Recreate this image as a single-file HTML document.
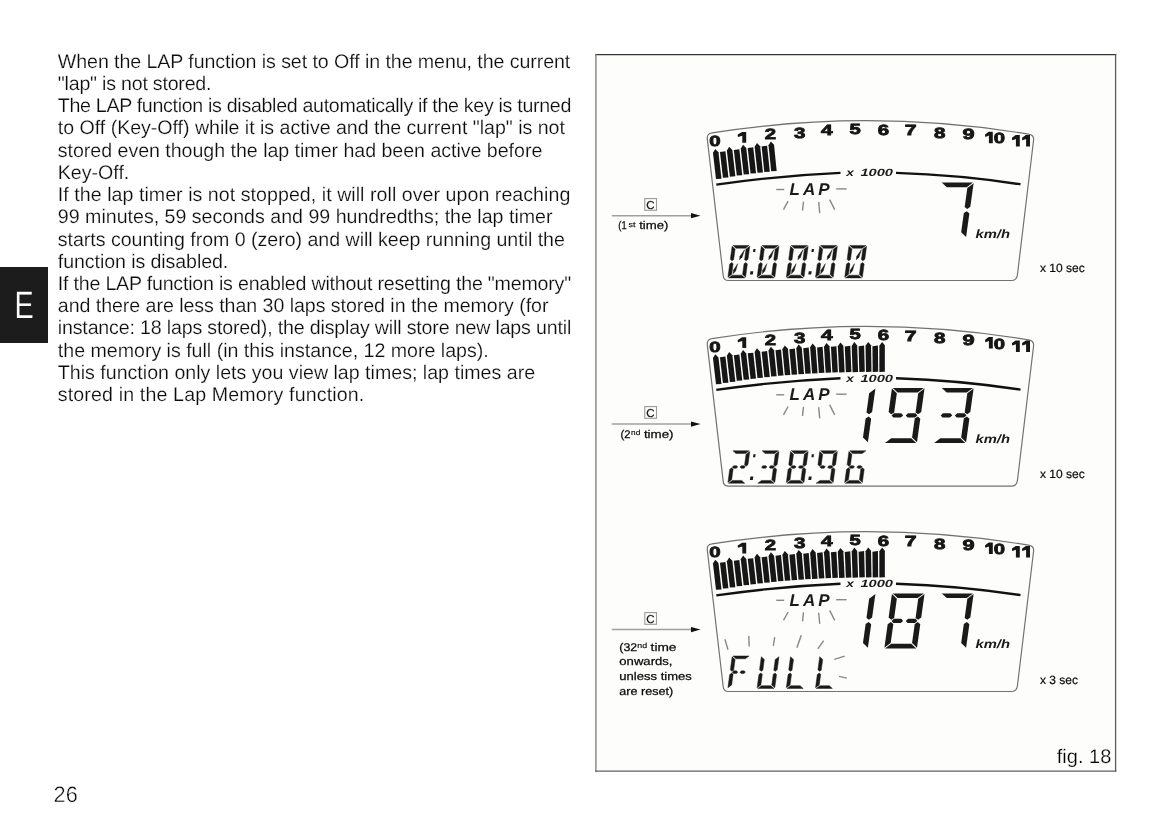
<!DOCTYPE html>
<html><head><meta charset="utf-8"><title>LAP function</title><style>
html,body{margin:0;padding:0;background:#fff;}
svg{display:block;will-change:transform;}
text{text-rendering:geometricPrecision;}
.bt{font-family:"Liberation Sans",sans-serif;font-size:19.6px;fill:#0c0c0c;stroke:#fff;stroke-width:0.2px;}
.pn{font-family:"Liberation Sans",sans-serif;font-size:22.5px;fill:#000;stroke:#fff;stroke-width:0.45px;}
.et{font-family:"Liberation Sans",sans-serif;font-size:38px;fill:#fff;stroke:#1c1c1c;stroke-width:0.25px;}
.fig{font-family:"Liberation Sans",sans-serif;font-size:19.6px;fill:#000;stroke:#fdfdfb;stroke-width:0.25px;}
.sn{font-family:"Liberation Sans",sans-serif;font-weight:bold;font-size:14.8px;fill:#161616;stroke:#161616;stroke-width:0.8px;}
.x1k{font-family:"Liberation Sans",sans-serif;font-weight:bold;font-style:italic;font-size:10.5px;fill:#1a1a1a;}
.lap{font-family:"Liberation Sans",sans-serif;font-weight:bold;font-style:italic;font-size:17px;fill:#1a1a1a;}
.kmh{font-family:"Liberation Sans",sans-serif;font-weight:bold;font-style:italic;font-size:12px;fill:#1a1a1a;}
.ray{stroke:#888;stroke-width:1.4;}
.ck{font-family:"Liberation Sans",sans-serif;font-size:11.5px;fill:#111;stroke:#111;stroke-width:0.2px;}
.an{font-family:"Liberation Sans",sans-serif;font-size:11.2px;fill:#0a0a0a;stroke:#0a0a0a;stroke-width:0.25px;}
.sup{font-family:"Liberation Sans",sans-serif;font-size:7.4px;fill:#0a0a0a;stroke:#0a0a0a;stroke-width:0.15px;}
.sec{font-family:"Liberation Sans",sans-serif;font-size:12px;fill:#0a0a0a;stroke:#0a0a0a;stroke-width:0.2px;}
</style></head>
<body><svg width="1169" height="825" viewBox="0 0 1169 825">
<rect width="1169" height="825" fill="#fff"/>
<text x="57.80" y="67.80" class="bt" textLength="512.50" lengthAdjust="spacing">When the LAP function is set to Off in the menu, the current</text><text x="57.80" y="90.02" class="bt" textLength="153.70" lengthAdjust="spacing">&quot;lap&quot; is not stored.</text><text x="57.80" y="112.24" class="bt" textLength="513.50" lengthAdjust="spacing">The LAP function is disabled automatically if the key is turned</text><text x="57.80" y="134.46" class="bt" textLength="507.10" lengthAdjust="spacing">to Off (Key-Off) while it is active and the current &quot;lap&quot; is not</text><text x="57.80" y="156.68" class="bt" textLength="484.50" lengthAdjust="spacing">stored even though the lap timer had been active before</text><text x="57.80" y="178.90" class="bt" textLength="71.50" lengthAdjust="spacing">Key-Off.</text><text x="57.80" y="201.12" class="bt" textLength="512.50" lengthAdjust="spacing">If the lap timer is not stopped, it will roll over upon reaching</text><text x="57.80" y="223.34" class="bt" textLength="494.70" lengthAdjust="spacing">99 minutes, 59 seconds and 99 hundredths; the lap timer</text><text x="57.80" y="245.56" class="bt" textLength="507.10" lengthAdjust="spacing">starts counting from 0 (zero) and will keep running until the</text><text x="57.80" y="267.78" class="bt" textLength="170.50" lengthAdjust="spacing">function is disabled.</text><text x="57.80" y="290.00" class="bt" textLength="513.30" lengthAdjust="spacing">If the LAP function is enabled without resetting the &quot;memory&quot;</text><text x="57.80" y="312.22" class="bt" textLength="490.70" lengthAdjust="spacing">and there are less than 30 laps stored in the memory (for</text><text x="57.80" y="334.44" class="bt" textLength="513.50" lengthAdjust="spacing">instance: 18 laps stored), the display will store new laps until</text><text x="57.80" y="356.66" class="bt" textLength="430.90" lengthAdjust="spacing">the memory is full (in this instance, 12 more laps).</text><text x="57.80" y="378.88" class="bt" textLength="477.30" lengthAdjust="spacing">This function only lets you view lap times; lap times are</text><text x="57.80" y="401.10" class="bt" textLength="306.50" lengthAdjust="spacing">stored in the Lap Memory function.</text><text x="53.6" y="802.3" class="pn" textLength="24.2" lengthAdjust="spacingAndGlyphs">26</text><rect x="0" y="267" width="48" height="76" fill="#1c1c1c"/><text x="14.6" y="318.3" class="et" textLength="19.2" lengthAdjust="spacingAndGlyphs">E</text><rect x="595.9" y="54.6" width="519.7" height="716.5" fill="#fdfdfb"/><line x1="595.2" y1="54.6" x2="1116.3" y2="54.6" stroke="#353535" stroke-width="1.3"/><line x1="595.9" y1="54" x2="595.9" y2="771.7" stroke="#7a7a7a" stroke-width="1.3"/><line x1="1115.6" y1="54" x2="1115.6" y2="771.7" stroke="#5c5c5c" stroke-width="1.3"/><line x1="595.2" y1="771.1" x2="1116.3" y2="771.1" stroke="#606060" stroke-width="1.3"/><text x="1056.8" y="762.6" class="fig" textLength="54.5" lengthAdjust="spacingAndGlyphs">fig. 18</text><path d="M707.4,140 Q706.4,133.6 712,132.9 Q870,107.9 1028.5,134.2 Q1034,135 1033.6,140 L1017.4,275.0 Q1016.6,280.5 1011.5,280.5 L728.5,280.5 Q723.6,280.5 723.2,275.7 Z" transform="translate(0,0)" fill="none" stroke="#6f7375" stroke-width="1.2"/><text x="709.30" y="146.40" class="sn" textLength="11.40" lengthAdjust="spacingAndGlyphs">0</text><text x="764.80" y="139.40" class="sn" textLength="11.30" lengthAdjust="spacingAndGlyphs">2</text><text x="794.00" y="137.60" class="sn" textLength="11.40" lengthAdjust="spacingAndGlyphs">3</text><text x="821.00" y="134.80" class="sn" textLength="11.60" lengthAdjust="spacingAndGlyphs">4</text><text x="849.50" y="134.00" class="sn" textLength="11.30" lengthAdjust="spacingAndGlyphs">5</text><text x="877.80" y="134.80" class="sn" textLength="11.40" lengthAdjust="spacingAndGlyphs">6</text><text x="904.80" y="135.30" class="sn" textLength="11.80" lengthAdjust="spacingAndGlyphs">7</text><text x="934.00" y="137.90" class="sn" textLength="11.40" lengthAdjust="spacingAndGlyphs">8</text><text x="962.50" y="139.40" class="sn" textLength="12.10" lengthAdjust="spacingAndGlyphs">9</text><polygon points="742.10,131.90 746.20,131.90 746.20,142.70 742.30,142.70 742.30,135.70 738.20,137.00 737.70,136.20 737.70,134.60" fill="#161616"/><polygon points="988.70,131.80 992.80,131.80 992.80,143.30 988.90,143.30 988.90,135.60 985.60,136.90 985.10,136.10 985.10,134.50" fill="#161616"/><polygon points="1015.70,135.10 1019.80,135.10 1019.80,146.60 1015.90,146.60 1015.90,138.90 1012.50,140.20 1012.00,139.40 1012.00,137.80" fill="#161616"/><polygon points="1025.90,135.10 1030.00,135.10 1030.00,146.60 1026.10,146.60 1026.10,138.90 1022.60,140.20 1022.10,139.40 1022.10,137.80" fill="#161616"/><text x="993.7" y="143.30" class="sn" textLength="11.3" lengthAdjust="spacingAndGlyphs">0</text><g fill="#161616"><polygon points="716.00,179.05 721.50,178.75 718.46,152.30 715.30,148.90 712.96,152.70"/><polygon points="722.93,177.81 728.43,177.51 725.45,151.30 719.95,152.00"/><polygon points="729.86,176.65 735.36,176.35 732.36,150.07 729.20,146.67 726.86,150.47"/><polygon points="736.77,175.56 742.27,175.26 739.34,149.20 733.84,149.90"/><polygon points="743.67,174.55 749.17,174.25 746.25,148.09 743.10,144.69 740.75,148.49"/><polygon points="750.56,173.61 756.06,173.31 753.23,147.34 747.73,148.04"/><polygon points="757.45,172.74 762.95,172.44 760.14,146.35 757.00,142.95 754.64,146.75"/><polygon points="764.32,171.94 769.82,171.64 767.11,145.71 761.61,146.41"/><polygon points="771.18,171.21 776.68,170.91 774.02,144.84 770.90,141.44 768.52,145.24"/></g><path d="M716.3,184.6 Q780,175.5 840.5,172.9" fill="none" stroke="#111" stroke-width="2.4"/><path d="M896,172.9 Q960,175 1020.5,184.3" fill="none" stroke="#111" stroke-width="2.4"/><text x="846.2" y="176.3" class="x1k" textLength="7.6" lengthAdjust="spacingAndGlyphs">x</text><text x="860.4" y="176.3" class="x1k" textLength="32.6" lengthAdjust="spacingAndGlyphs">1000</text><text x="789.5" y="195" class="lap" textLength="40" lengthAdjust="spacing">LAP</text><line x1="776.2" y1="189.5" x2="784.2" y2="189.5" class="ray"/><line x1="836.2" y1="188.9" x2="846.6" y2="188.9" class="ray"/><line x1="788.1" y1="201.2" x2="783.5" y2="209.6" class="ray"/><line x1="803.5" y1="201.6" x2="802.5" y2="210.6" class="ray"/><line x1="818.7" y1="201.9" x2="819.7" y2="213.1" class="ray"/><line x1="829.7" y1="199.6" x2="834.7" y2="209.6" class="ray"/><g fill="#1a1a1a"><polygon points="941.80,182.60 973.00,182.60 966.74,187.30 946.74,187.30"/><polygon points="973.60,183.30 970.33,206.70 967.22,208.90 964.67,207.10 967.34,188.00"/><polygon points="969.37,213.50 966.10,236.90 961.16,232.20 963.83,213.10 966.88,211.30"/></g><text x="975.5" y="237.6" class="kmh" textLength="34.5" lengthAdjust="spacingAndGlyphs">km/h</text><g fill="#1a1a1a" stroke="#1a1a1a" stroke-width="0.45" stroke-linejoin="round"><polygon points="732.94,245.45 749.14,245.45 745.36,248.25 735.96,248.25"/><polygon points="749.79,246.20 748.02,259.30 746.11,260.85 744.56,259.70 746.01,249.00"/><polygon points="747.37,264.10 745.60,277.20 742.58,274.40 744.02,263.70 745.88,262.55"/><polygon points="732.33,275.15 741.73,275.15 744.75,277.95 728.55,277.95"/><polygon points="729.67,264.10 731.58,262.55 733.12,263.70 731.68,274.40 727.90,277.20"/><polygon points="732.09,246.20 735.11,249.00 733.66,259.70 731.81,260.85 730.32,259.30"/><polygon points="744.62,249.65 739.95,256.33 739.50,259.80 742.13,257.18"/><polygon points="737.67,263.70 733.43,270.16 733.07,273.75 735.65,270.91"/><polygon points="762.14,245.45 778.34,245.45 774.56,248.25 765.16,248.25"/><polygon points="778.99,246.20 777.22,259.30 775.31,260.85 773.76,259.70 775.21,249.00"/><polygon points="776.57,264.10 774.80,277.20 771.78,274.40 773.22,263.70 775.08,262.55"/><polygon points="761.53,275.15 770.93,275.15 773.95,277.95 757.75,277.95"/><polygon points="758.87,264.10 760.78,262.55 762.32,263.70 760.88,274.40 757.10,277.20"/><polygon points="761.29,246.20 764.31,249.00 762.86,259.70 761.01,260.85 759.52,259.30"/><polygon points="773.82,249.65 769.15,256.33 768.70,259.80 771.33,257.18"/><polygon points="766.87,263.70 762.63,270.16 762.27,273.75 764.85,270.91"/><polygon points="791.34,245.45 807.54,245.45 803.76,248.25 794.36,248.25"/><polygon points="808.19,246.20 806.42,259.30 804.51,260.85 802.96,259.70 804.41,249.00"/><polygon points="805.77,264.10 804.00,277.20 800.98,274.40 802.42,263.70 804.28,262.55"/><polygon points="790.73,275.15 800.13,275.15 803.15,277.95 786.95,277.95"/><polygon points="788.07,264.10 789.98,262.55 791.52,263.70 790.08,274.40 786.30,277.20"/><polygon points="790.49,246.20 793.51,249.00 792.06,259.70 790.21,260.85 788.72,259.30"/><polygon points="803.02,249.65 798.35,256.33 797.90,259.80 800.53,257.18"/><polygon points="796.07,263.70 791.83,270.16 791.47,273.75 794.05,270.91"/><polygon points="820.54,245.45 836.74,245.45 832.96,248.25 823.56,248.25"/><polygon points="837.39,246.20 835.62,259.30 833.71,260.85 832.16,259.70 833.61,249.00"/><polygon points="834.97,264.10 833.20,277.20 830.18,274.40 831.62,263.70 833.48,262.55"/><polygon points="819.93,275.15 829.33,275.15 832.35,277.95 816.15,277.95"/><polygon points="817.27,264.10 819.18,262.55 820.72,263.70 819.28,274.40 815.50,277.20"/><polygon points="819.69,246.20 822.71,249.00 821.26,259.70 819.41,260.85 817.92,259.30"/><polygon points="832.22,249.65 827.55,256.33 827.10,259.80 829.73,257.18"/><polygon points="825.27,263.70 821.03,270.16 820.67,273.75 823.25,270.91"/><polygon points="849.74,245.45 865.94,245.45 862.16,248.25 852.76,248.25"/><polygon points="866.59,246.20 864.82,259.30 862.91,260.85 861.36,259.70 862.81,249.00"/><polygon points="864.17,264.10 862.40,277.20 859.38,274.40 860.82,263.70 862.68,262.55"/><polygon points="849.13,275.15 858.53,275.15 861.55,277.95 845.35,277.95"/><polygon points="846.47,264.10 848.38,262.55 849.92,263.70 848.48,274.40 844.70,277.20"/><polygon points="848.89,246.20 851.91,249.00 850.46,259.70 848.61,260.85 847.12,259.30"/><polygon points="861.42,249.65 856.75,256.33 856.30,259.80 858.93,257.18"/><polygon points="854.47,263.70 850.23,270.16 849.87,273.75 852.45,270.91"/></g><polygon points="753.40,249.00 755.60,249.00 755.20,252.00 753.00,252.00" fill="#1a1a1a"/><polygon points="750.40,271.20 753.30,271.20 752.80,274.60 749.90,274.60" fill="#1a1a1a"/><polygon points="811.80,249.00 814.00,249.00 813.60,252.00 811.40,252.00" fill="#1a1a1a"/><polygon points="808.80,271.20 811.70,271.20 811.20,274.60 808.30,274.60" fill="#1a1a1a"/><path d="M707.4,140 Q706.4,133.6 712,132.9 Q870,107.9 1028.5,134.2 Q1034,135 1033.6,140 L1017.4,275.0 Q1016.6,280.5 1011.5,280.5 L728.5,280.5 Q723.6,280.5 723.2,275.7 Z" transform="translate(0,205.7)" fill="none" stroke="#6f7375" stroke-width="1.2"/><text x="709.30" y="351.70" class="sn" textLength="11.40" lengthAdjust="spacingAndGlyphs">0</text><text x="764.80" y="344.70" class="sn" textLength="11.30" lengthAdjust="spacingAndGlyphs">2</text><text x="794.00" y="342.90" class="sn" textLength="11.40" lengthAdjust="spacingAndGlyphs">3</text><text x="821.00" y="340.10" class="sn" textLength="11.60" lengthAdjust="spacingAndGlyphs">4</text><text x="849.50" y="339.30" class="sn" textLength="11.30" lengthAdjust="spacingAndGlyphs">5</text><text x="877.80" y="340.10" class="sn" textLength="11.40" lengthAdjust="spacingAndGlyphs">6</text><text x="904.80" y="340.60" class="sn" textLength="11.80" lengthAdjust="spacingAndGlyphs">7</text><text x="934.00" y="343.20" class="sn" textLength="11.40" lengthAdjust="spacingAndGlyphs">8</text><text x="962.50" y="344.70" class="sn" textLength="12.10" lengthAdjust="spacingAndGlyphs">9</text><polygon points="742.10,337.20 746.20,337.20 746.20,348.00 742.30,348.00 742.30,341.00 738.20,342.30 737.70,341.50 737.70,339.90" fill="#161616"/><polygon points="988.70,337.10 992.80,337.10 992.80,348.60 988.90,348.60 988.90,340.90 985.60,342.20 985.10,341.40 985.10,339.80" fill="#161616"/><polygon points="1015.70,340.40 1019.80,340.40 1019.80,351.90 1015.90,351.90 1015.90,344.20 1012.50,345.50 1012.00,344.70 1012.00,343.10" fill="#161616"/><polygon points="1025.90,340.40 1030.00,340.40 1030.00,351.90 1026.10,351.90 1026.10,344.20 1022.60,345.50 1022.10,344.70 1022.10,343.10" fill="#161616"/><text x="993.7" y="348.60" class="sn" textLength="11.3" lengthAdjust="spacingAndGlyphs">0</text><g fill="#161616"><polygon points="716.00,384.35 721.50,384.05 718.46,357.60 715.30,354.20 712.96,358.00"/><polygon points="722.93,383.11 728.43,382.81 725.45,356.60 719.95,357.30"/><polygon points="729.86,381.95 735.36,381.65 732.36,355.37 729.20,351.97 726.86,355.77"/><polygon points="736.77,380.86 742.27,380.56 739.34,354.50 733.84,355.20"/><polygon points="743.67,379.85 749.17,379.55 746.25,353.39 743.10,349.99 740.75,353.79"/><polygon points="750.56,378.91 756.06,378.61 753.23,352.64 747.73,353.34"/><polygon points="757.45,378.04 762.95,377.74 760.14,351.65 757.00,348.25 754.64,352.05"/><polygon points="764.32,377.24 769.82,376.94 767.11,351.01 761.61,351.71"/><polygon points="771.18,376.51 776.68,376.21 774.02,350.14 770.90,346.74 768.52,350.54"/><polygon points="778.03,375.85 783.53,375.55 780.99,349.62 775.49,350.32"/><polygon points="784.87,375.25 790.37,374.95 787.89,348.86 784.80,345.46 782.39,349.26"/><polygon points="791.69,374.71 797.19,374.41 794.85,348.45 789.35,349.15"/><polygon points="798.51,374.22 804.01,373.92 801.76,347.80 798.70,344.40 796.26,348.20"/><polygon points="805.31,373.80 810.81,373.50 808.72,347.49 803.22,348.19"/><polygon points="812.11,373.43 817.61,373.13 815.62,346.94 812.60,343.54 810.12,347.34"/><polygon points="818.89,373.11 824.39,372.81 822.57,346.74 817.07,347.44"/><polygon points="825.65,372.84 831.15,372.54 829.48,346.28 826.50,342.88 823.98,346.68"/><polygon points="832.41,372.62 837.91,372.32 836.42,346.17 830.92,346.87"/><polygon points="839.15,372.43 844.65,372.13 843.33,345.81 840.40,342.41 837.83,346.21"/><polygon points="845.88,372.29 851.38,371.99 850.27,345.78 844.77,346.48"/><polygon points="852.60,372.19 858.10,371.89 857.18,345.50 854.30,342.10 851.68,345.90"/><polygon points="859.31,372.12 864.81,371.82 864.11,345.55 858.61,346.25"/><polygon points="866.00,372.07 871.50,371.77 871.02,345.34 868.20,341.94 865.52,345.74"/><polygon points="872.68,372.05 878.18,371.75 877.94,345.46 872.44,346.16"/><polygon points="879.35,372.05 884.85,371.75 884.85,345.30 882.10,341.90 879.35,345.70"/></g><path d="M716.3,389.9 Q780,380.8 840.5,378.20000000000005" fill="none" stroke="#111" stroke-width="2.4"/><path d="M896,378.20000000000005 Q960,380.3 1020.5,389.6" fill="none" stroke="#111" stroke-width="2.4"/><text x="846.2" y="381.6" class="x1k" textLength="7.6" lengthAdjust="spacingAndGlyphs">x</text><text x="860.4" y="381.6" class="x1k" textLength="32.6" lengthAdjust="spacingAndGlyphs">1000</text><text x="789.5" y="400.3" class="lap" textLength="40" lengthAdjust="spacing">LAP</text><line x1="776.2" y1="394.8" x2="784.2" y2="394.8" class="ray"/><line x1="836.2" y1="394.20000000000005" x2="846.6" y2="394.20000000000005" class="ray"/><line x1="788.1" y1="406.5" x2="783.5" y2="414.9" class="ray"/><line x1="803.5" y1="406.9" x2="802.5" y2="415.9" class="ray"/><line x1="818.7" y1="407.20000000000005" x2="819.7" y2="418.4" class="ray"/><line x1="829.7" y1="404.9" x2="834.7" y2="414.9" class="ray"/><g fill="#1a1a1a"><polygon points="875.40,388.60 872.13,412.00 869.02,414.20 866.47,412.40 869.14,393.30"/><polygon points="871.17,418.80 867.90,442.20 862.96,437.50 865.63,418.40 868.68,416.60"/><polygon points="892.70,387.90 923.90,387.90 917.64,392.60 897.64,392.60"/><polygon points="924.50,388.60 921.23,412.00 918.12,414.20 915.57,412.40 918.24,393.30"/><polygon points="920.27,418.80 917.00,442.20 912.06,437.50 914.73,418.40 917.78,416.60"/><polygon points="891.26,438.20 911.26,438.20 916.20,442.90 885.00,442.90"/><polygon points="891.90,388.60 896.84,393.30 894.17,412.40 891.12,414.20 888.63,412.00"/><polygon points="891.55,415.40 893.94,413.30 901.34,413.30 903.15,415.40 900.76,417.50 893.36,417.50"/><polygon points="905.75,415.40 908.14,413.30 915.54,413.30 917.35,415.40 914.96,417.50 907.56,417.50"/><polygon points="941.80,387.90 973.00,387.90 966.74,392.60 946.74,392.60"/><polygon points="973.60,388.60 970.33,412.00 967.22,414.20 964.67,412.40 967.34,393.30"/><polygon points="940.65,415.40 943.04,413.30 950.44,413.30 952.25,415.40 949.86,417.50 942.46,417.50"/><polygon points="954.85,415.40 957.24,413.30 964.64,413.30 966.45,415.40 964.06,417.50 956.66,417.50"/><polygon points="969.37,418.80 966.10,442.20 961.16,437.50 963.83,418.40 966.88,416.60"/><polygon points="940.36,438.20 960.36,438.20 965.30,442.90 934.10,442.90"/></g><text x="975.5" y="442.9" class="kmh" textLength="34.5" lengthAdjust="spacingAndGlyphs">km/h</text><g fill="#1a1a1a" stroke="#1a1a1a" stroke-width="0.45" stroke-linejoin="round"><polygon points="732.94,450.75 749.14,450.75 745.36,453.55 735.96,453.55"/><polygon points="749.79,451.50 748.02,464.60 746.11,466.15 744.56,465.00 746.01,454.30"/><polygon points="732.29,467.00 733.83,465.65 736.58,465.65 737.74,467.00 736.21,468.35 733.46,468.35"/><polygon points="739.94,467.00 741.48,465.65 744.23,465.65 745.39,467.00 743.86,468.35 741.11,468.35"/><polygon points="729.67,469.40 731.58,467.85 733.12,469.00 731.68,479.70 727.90,482.50"/><polygon points="732.33,480.45 741.73,480.45 744.75,483.25 728.55,483.25"/><polygon points="762.14,450.75 778.34,450.75 774.56,453.55 765.16,453.55"/><polygon points="778.99,451.50 777.22,464.60 775.31,466.15 773.76,465.00 775.21,454.30"/><polygon points="761.49,467.00 763.03,465.65 765.78,465.65 766.94,467.00 765.41,468.35 762.66,468.35"/><polygon points="769.14,467.00 770.68,465.65 773.43,465.65 774.59,467.00 773.06,468.35 770.31,468.35"/><polygon points="776.57,469.40 774.80,482.50 771.78,479.70 773.22,469.00 775.08,467.85"/><polygon points="761.53,480.45 770.93,480.45 773.95,483.25 757.75,483.25"/><polygon points="791.34,450.75 807.54,450.75 803.76,453.55 794.36,453.55"/><polygon points="808.19,451.50 806.42,464.60 804.51,466.15 802.96,465.00 804.41,454.30"/><polygon points="805.77,469.40 804.00,482.50 800.98,479.70 802.42,469.00 804.28,467.85"/><polygon points="790.73,480.45 800.13,480.45 803.15,483.25 786.95,483.25"/><polygon points="788.07,469.40 789.98,467.85 791.52,469.00 790.08,479.70 786.30,482.50"/><polygon points="790.49,451.50 793.51,454.30 792.06,465.00 790.21,466.15 788.72,464.60"/><polygon points="790.69,467.00 792.23,465.65 794.98,465.65 796.14,467.00 794.61,468.35 791.86,468.35"/><polygon points="798.34,467.00 799.88,465.65 802.63,465.65 803.79,467.00 802.26,468.35 799.51,468.35"/><polygon points="820.54,450.75 836.74,450.75 832.96,453.55 823.56,453.55"/><polygon points="837.39,451.50 835.62,464.60 833.71,466.15 832.16,465.00 833.61,454.30"/><polygon points="834.97,469.40 833.20,482.50 830.18,479.70 831.62,469.00 833.48,467.85"/><polygon points="819.93,480.45 829.33,480.45 832.35,483.25 816.15,483.25"/><polygon points="819.69,451.50 822.71,454.30 821.26,465.00 819.41,466.15 817.92,464.60"/><polygon points="819.89,467.00 821.43,465.65 824.18,465.65 825.34,467.00 823.81,468.35 821.06,468.35"/><polygon points="827.54,467.00 829.08,465.65 831.83,465.65 832.99,467.00 831.46,468.35 828.71,468.35"/><polygon points="849.74,450.75 865.94,450.75 862.16,453.55 852.76,453.55"/><polygon points="848.89,451.50 851.91,454.30 850.46,465.00 848.61,466.15 847.12,464.60"/><polygon points="849.09,467.00 850.63,465.65 853.38,465.65 854.54,467.00 853.01,468.35 850.26,468.35"/><polygon points="856.74,467.00 858.28,465.65 861.03,465.65 862.19,467.00 860.66,468.35 857.91,468.35"/><polygon points="846.47,469.40 848.38,467.85 849.92,469.00 848.48,479.70 844.70,482.50"/><polygon points="864.17,469.40 862.40,482.50 859.38,479.70 860.82,469.00 862.68,467.85"/><polygon points="849.13,480.45 858.53,480.45 861.55,483.25 845.35,483.25"/></g><polygon points="753.40,454.30 755.60,454.30 755.20,457.30 753.00,457.30" fill="#1a1a1a"/><polygon points="750.40,476.50 753.30,476.50 752.80,479.90 749.90,479.90" fill="#1a1a1a"/><polygon points="811.80,454.30 814.00,454.30 813.60,457.30 811.40,457.30" fill="#1a1a1a"/><polygon points="808.80,476.50 811.70,476.50 811.20,479.90 808.30,479.90" fill="#1a1a1a"/><path d="M707.4,140 Q706.4,133.6 712,132.9 Q870,107.9 1028.5,134.2 Q1034,135 1033.6,140 L1017.4,275.0 Q1016.6,280.5 1011.5,280.5 L728.5,280.5 Q723.6,280.5 723.2,275.7 Z" transform="translate(0,411.0)" fill="none" stroke="#6f7375" stroke-width="1.2"/><text x="709.30" y="557.20" class="sn" textLength="11.40" lengthAdjust="spacingAndGlyphs">0</text><text x="764.80" y="550.20" class="sn" textLength="11.30" lengthAdjust="spacingAndGlyphs">2</text><text x="794.00" y="548.40" class="sn" textLength="11.40" lengthAdjust="spacingAndGlyphs">3</text><text x="821.00" y="545.60" class="sn" textLength="11.60" lengthAdjust="spacingAndGlyphs">4</text><text x="849.50" y="544.80" class="sn" textLength="11.30" lengthAdjust="spacingAndGlyphs">5</text><text x="877.80" y="545.60" class="sn" textLength="11.40" lengthAdjust="spacingAndGlyphs">6</text><text x="904.80" y="546.10" class="sn" textLength="11.80" lengthAdjust="spacingAndGlyphs">7</text><text x="934.00" y="548.70" class="sn" textLength="11.40" lengthAdjust="spacingAndGlyphs">8</text><text x="962.50" y="550.20" class="sn" textLength="12.10" lengthAdjust="spacingAndGlyphs">9</text><polygon points="742.10,542.70 746.20,542.70 746.20,553.50 742.30,553.50 742.30,546.50 738.20,547.80 737.70,547.00 737.70,545.40" fill="#161616"/><polygon points="988.70,542.60 992.80,542.60 992.80,554.10 988.90,554.10 988.90,546.40 985.60,547.70 985.10,546.90 985.10,545.30" fill="#161616"/><polygon points="1015.70,545.90 1019.80,545.90 1019.80,557.40 1015.90,557.40 1015.90,549.70 1012.50,551.00 1012.00,550.20 1012.00,548.60" fill="#161616"/><polygon points="1025.90,545.90 1030.00,545.90 1030.00,557.40 1026.10,557.40 1026.10,549.70 1022.60,551.00 1022.10,550.20 1022.10,548.60" fill="#161616"/><text x="993.7" y="554.10" class="sn" textLength="11.3" lengthAdjust="spacingAndGlyphs">0</text><g fill="#161616"><polygon points="716.00,589.85 721.50,589.55 718.46,563.10 715.30,559.70 712.96,563.50"/><polygon points="722.93,588.61 728.43,588.31 725.45,562.10 719.95,562.80"/><polygon points="729.86,587.45 735.36,587.15 732.36,560.87 729.20,557.47 726.86,561.27"/><polygon points="736.77,586.36 742.27,586.06 739.34,560.00 733.84,560.70"/><polygon points="743.67,585.35 749.17,585.05 746.25,558.89 743.10,555.49 740.75,559.29"/><polygon points="750.56,584.41 756.06,584.11 753.23,558.14 747.73,558.84"/><polygon points="757.45,583.54 762.95,583.24 760.14,557.15 757.00,553.75 754.64,557.55"/><polygon points="764.32,582.74 769.82,582.44 767.11,556.51 761.61,557.21"/><polygon points="771.18,582.01 776.68,581.71 774.02,555.64 770.90,552.24 768.52,556.04"/><polygon points="778.03,581.35 783.53,581.05 780.99,555.12 775.49,555.82"/><polygon points="784.87,580.75 790.37,580.45 787.89,554.36 784.80,550.96 782.39,554.76"/><polygon points="791.69,580.21 797.19,579.91 794.85,553.95 789.35,554.65"/><polygon points="798.51,579.72 804.01,579.42 801.76,553.30 798.70,549.90 796.26,553.70"/><polygon points="805.31,579.30 810.81,579.00 808.72,552.99 803.22,553.69"/><polygon points="812.11,578.93 817.61,578.63 815.62,552.44 812.60,549.04 810.12,552.84"/><polygon points="818.89,578.61 824.39,578.31 822.57,552.24 817.07,552.94"/><polygon points="825.65,578.34 831.15,578.04 829.48,551.78 826.50,548.38 823.98,552.18"/><polygon points="832.41,578.12 837.91,577.82 836.42,551.67 830.92,552.37"/><polygon points="839.15,577.93 844.65,577.63 843.33,551.31 840.40,547.91 837.83,551.71"/><polygon points="845.88,577.79 851.38,577.49 850.27,551.28 844.77,551.98"/><polygon points="852.60,577.69 858.10,577.39 857.18,551.00 854.30,547.60 851.68,551.40"/><polygon points="859.31,577.62 864.81,577.32 864.11,551.05 858.61,551.75"/><polygon points="866.00,577.57 871.50,577.27 871.02,550.84 868.20,547.44 865.52,551.24"/><polygon points="872.68,577.55 878.18,577.25 877.94,550.96 872.44,551.66"/><polygon points="879.35,577.55 884.85,577.25 884.85,550.80 882.10,547.40 879.35,551.20"/></g><path d="M716.3,595.4 Q780,586.3 840.5,583.7" fill="none" stroke="#111" stroke-width="2.4"/><path d="M896,583.7 Q960,585.8 1020.5,595.1" fill="none" stroke="#111" stroke-width="2.4"/><text x="846.2" y="587.1" class="x1k" textLength="7.6" lengthAdjust="spacingAndGlyphs">x</text><text x="860.4" y="587.1" class="x1k" textLength="32.6" lengthAdjust="spacingAndGlyphs">1000</text><text x="789.5" y="605.8" class="lap" textLength="40" lengthAdjust="spacing">LAP</text><line x1="776.2" y1="600.3" x2="784.2" y2="600.3" class="ray"/><line x1="836.2" y1="599.7" x2="846.6" y2="599.7" class="ray"/><line x1="788.1" y1="612.0" x2="783.5" y2="620.4" class="ray"/><line x1="803.5" y1="612.4" x2="802.5" y2="621.4" class="ray"/><line x1="818.7" y1="612.7" x2="819.7" y2="623.9" class="ray"/><line x1="829.7" y1="610.4" x2="834.7" y2="620.4" class="ray"/><g fill="#1a1a1a"><polygon points="875.40,594.10 872.13,617.50 869.02,619.70 866.47,617.90 869.14,598.80"/><polygon points="871.17,624.30 867.90,647.70 862.96,643.00 865.63,623.90 868.68,622.10"/><polygon points="892.70,593.40 923.90,593.40 917.64,598.10 897.64,598.10"/><polygon points="924.50,594.10 921.23,617.50 918.12,619.70 915.57,617.90 918.24,598.80"/><polygon points="920.27,624.30 917.00,647.70 912.06,643.00 914.73,623.90 917.78,622.10"/><polygon points="891.26,643.70 911.26,643.70 916.20,648.40 885.00,648.40"/><polygon points="887.67,624.30 890.78,622.10 893.33,623.90 890.66,643.00 884.40,647.70"/><polygon points="891.90,594.10 896.84,598.80 894.17,617.90 891.12,619.70 888.63,617.50"/><polygon points="891.55,620.90 893.94,618.80 901.34,618.80 903.15,620.90 900.76,623.00 893.36,623.00"/><polygon points="905.75,620.90 908.14,618.80 915.54,618.80 917.35,620.90 914.96,623.00 907.56,623.00"/><polygon points="941.80,593.40 973.00,593.40 966.74,598.10 946.74,598.10"/><polygon points="973.60,594.10 970.33,617.50 967.22,619.70 964.67,617.90 967.34,598.80"/><polygon points="969.37,624.30 966.10,647.70 961.16,643.00 963.83,623.90 966.88,622.10"/></g><text x="975.5" y="648.4" class="kmh" textLength="34.5" lengthAdjust="spacingAndGlyphs">km/h</text><g fill="#1a1a1a" stroke="#1a1a1a" stroke-width="0.45" stroke-linejoin="round"><polygon points="732.94,655.95 749.14,655.95 745.36,658.75 735.96,658.75"/><polygon points="732.09,656.70 735.11,659.50 733.66,670.20 731.81,671.35 730.32,669.80"/><polygon points="729.67,674.60 731.58,673.05 733.12,674.20 731.68,684.90 727.90,687.70"/><polygon points="732.29,672.20 733.83,670.85 736.58,670.85 737.74,672.20 736.21,673.55 733.46,673.55"/><polygon points="739.94,672.20 741.48,670.85 744.23,670.85 745.39,672.20 743.86,673.55 741.11,673.55"/><polygon points="778.99,656.70 777.22,669.80 775.31,671.35 773.76,670.20 775.21,659.50"/><polygon points="776.57,674.60 774.80,687.70 771.78,684.90 773.22,674.20 775.08,673.05"/><polygon points="761.53,685.65 770.93,685.65 773.95,688.45 757.75,688.45"/><polygon points="758.87,674.60 760.78,673.05 762.32,674.20 760.88,684.90 757.10,687.70"/><polygon points="761.29,656.70 764.31,659.50 762.86,670.20 761.01,671.35 759.52,669.80"/><polygon points="790.49,656.70 793.51,659.50 792.06,670.20 790.21,671.35 788.72,669.80"/><polygon points="788.07,674.60 789.98,673.05 791.52,674.20 790.08,684.90 786.30,687.70"/><polygon points="790.73,685.65 800.13,685.65 803.15,688.45 786.95,688.45"/><polygon points="819.69,656.70 822.71,659.50 821.26,670.20 819.41,671.35 817.92,669.80"/><polygon points="817.27,674.60 819.18,673.05 820.72,674.20 819.28,684.90 815.50,687.70"/><polygon points="819.93,685.65 829.33,685.65 832.35,688.45 816.15,688.45"/></g><line x1="724.9" y1="639.2" x2="728" y2="649.8" class="ray"/><line x1="748.8" y1="635.9" x2="749.2" y2="646.5" class="ray"/><line x1="774.7" y1="637.2" x2="773.3" y2="645.9" class="ray"/><line x1="801.2" y1="635.2" x2="796.9" y2="647.8" class="ray"/><line x1="823.7" y1="640.6" x2="817.8" y2="648.9" class="ray"/><line x1="834.3" y1="659.4" x2="844.7" y2="656.1" class="ray"/><line x1="839" y1="676.4" x2="846.9" y2="678.1" class="ray"/><rect x="644.8" y="198.60" width="11.7" height="11.7" fill="none" stroke="#9a9a9a" stroke-width="1.1"/><text x="646.2" y="208.80" class="ck">C</text><line x1="611.8" y1="215.70" x2="692" y2="215.70" stroke="#a0a0a0" stroke-width="1.5"/><polygon points="691,213.10 700.5,215.70 691,218.30" fill="#111"/><text x="618.30" y="228.90" class="an" textLength="8.30" lengthAdjust="spacingAndGlyphs">(1</text><text x="628.60" y="226.80" class="sup" textLength="7.00" lengthAdjust="spacingAndGlyphs">st</text><text x="639.20" y="228.90" class="an" textLength="29.30" lengthAdjust="spacingAndGlyphs">time)</text><rect x="644.8" y="406.60" width="11.7" height="11.7" fill="none" stroke="#9a9a9a" stroke-width="1.1"/><text x="646.2" y="416.80" class="ck">C</text><line x1="611.8" y1="424.10" x2="692" y2="424.10" stroke="#a0a0a0" stroke-width="1.5"/><polygon points="691,421.50 700.5,424.10 691,426.70" fill="#111"/><text x="620.40" y="437.80" class="an" textLength="10.00" lengthAdjust="spacingAndGlyphs">(2</text><text x="631.10" y="435.20" class="sup" textLength="9.20" lengthAdjust="spacingAndGlyphs">nd</text><text x="643.90" y="437.80" class="an" textLength="29.70" lengthAdjust="spacingAndGlyphs">time)</text><rect x="644.8" y="612.60" width="11.7" height="11.7" fill="none" stroke="#9a9a9a" stroke-width="1.1"/><text x="646.2" y="622.80" class="ck">C</text><line x1="611.8" y1="629.60" x2="692" y2="629.60" stroke="#a0a0a0" stroke-width="1.5"/><polygon points="691,627.00 700.5,629.60 691,632.20" fill="#111"/><text x="619.30" y="650.70" class="an" textLength="17.90" lengthAdjust="spacingAndGlyphs">(32</text><text x="637.30" y="648.00" class="sup" textLength="9.90" lengthAdjust="spacingAndGlyphs">nd</text><text x="650.60" y="650.70" class="an" textLength="25.90" lengthAdjust="spacingAndGlyphs">time</text><text x="619.30" y="665.40" class="an" textLength="53.20" lengthAdjust="spacingAndGlyphs">onwards,</text><text x="619.30" y="680.40" class="an" textLength="72.60" lengthAdjust="spacingAndGlyphs">unless times</text><text x="619.30" y="695.30" class="an" textLength="53.90" lengthAdjust="spacingAndGlyphs">are reset)</text><text x="1040" y="272.1" class="sec">x 10 sec</text><text x="1040" y="478" class="sec">x 10 sec</text><text x="1040" y="683.9" class="sec">x 3 sec</text>
</svg></body></html>
